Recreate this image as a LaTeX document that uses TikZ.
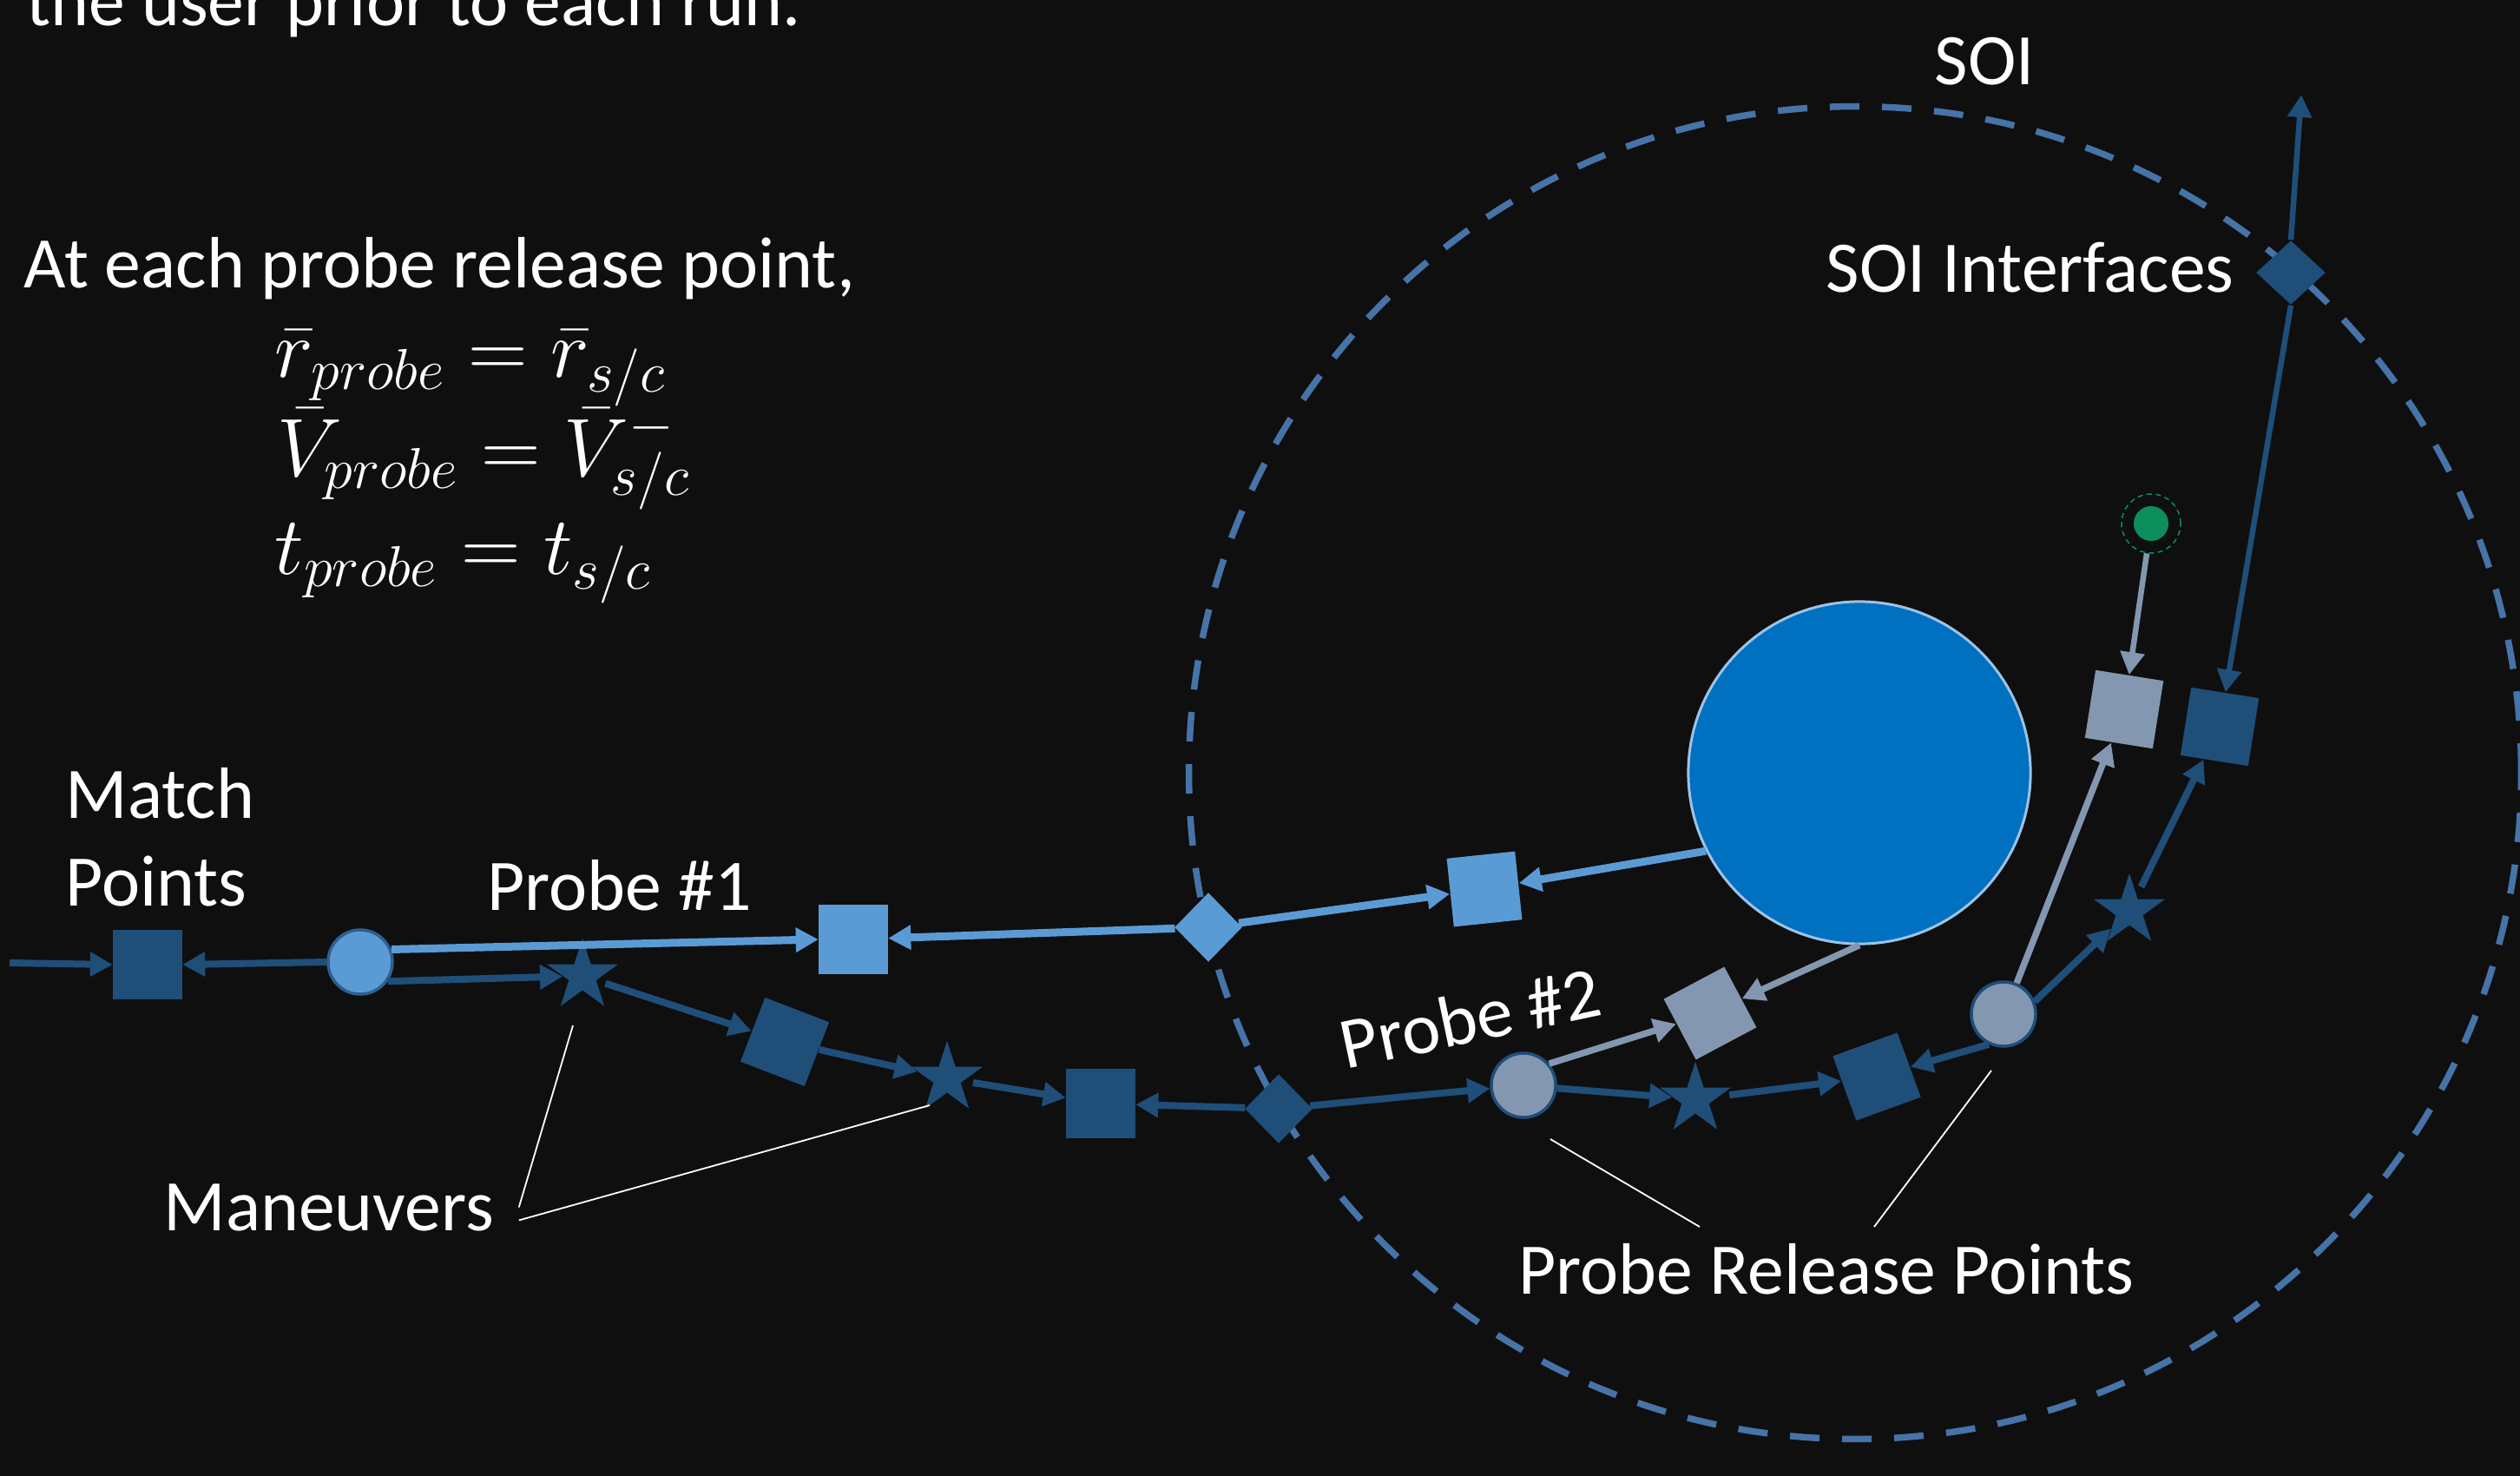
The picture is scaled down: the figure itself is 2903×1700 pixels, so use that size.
\RequirePackage{fix-cm}
\documentclass[tikz,border=0pt]{standalone}
\usepackage{fontspec}
\setmainfont{Carlito}
\usetikzlibrary{shapes.geometric,arrows.meta}
\definecolor{lb}{HTML}{5B9BD5}
\definecolor{dk}{HTML}{1F4E79}
\definecolor{gy}{HTML}{8497B0}
\definecolor{planetc}{HTML}{0070C0}
\definecolor{planetb}{HTML}{9DC3E6}
\definecolor{soic}{HTML}{4673A8}
\definecolor{grn}{HTML}{0C8F5C}
\definecolor{bgc}{HTML}{0F0F0F}
\definecolor{cob}{HTML}{2F5F8F}
\tikzset{
  txt/.style={text=white, font=\fontsize{23.8pt}{28.6pt}\selectfont, inner sep=0pt, anchor=base west},
  eqn/.style={text=white, font=\fontsize{27pt}{32pt}\selectfont, inner sep=0pt, anchor=base west},
  sq/.style={rectangle, minimum size=0.79cm, inner sep=0pt},
  dksq/.style={sq, fill=dk},
  lbsq/.style={sq, fill=lb},
  gysq/.style={sq, fill=gy},
  rel/.style={circle, minimum size=0.74cm, inner sep=0pt, line width=0.035cm},
  mstar/.style={star, star points=5, star point ratio=2.618, minimum size=0.86cm, inner sep=0pt, fill=dk},
  dia/.style={diamond, minimum width=0.78cm, minimum height=0.8cm, inner sep=0pt},
  conn/.style={line width=0.08cm, -{Triangle[length=0.26cm,width=0.27cm]}},
  dkc/.style={conn, draw=dk},
  lbc/.style={conn, draw=lb, line width=0.09cm},
  gyc/.style={conn, draw=gy, line width=0.075cm},
  leader/.style={draw=white, line width=0.018cm},
}
\begin{document}
\begin{tikzpicture}[x=0.01cm,y=-0.01cm]
\useasboundingbox (0,0) rectangle (2903,1700);
\clip (0,0) rectangle (2903,1700);
\fill[bgc] (0,0) rectangle (2903,1700);

% SOI
\draw[soic, line width=0.075cm, dash pattern=on 0.34cm off 0.26cm] (2137,890) circle[radius=7.67cm];

% texts
\node[txt] (hdr) at (30,30) {the user prior to each run.};
\node[txt] (intro) at (27,331) {At each probe release point,};
\node[eqn] (e1) at (316,434) {$\bar{r}_{probe}=\bar{r}_{s/c}$};
\node[eqn] (e2) at (319,548) {$\bar{V}_{probe}=\bar{V}^{-}_{s/c}$};
\node[eqn] (e3) at (316,661) {$t_{probe}=t_{s/c}$};
\node[txt] (mt1) at (75,942) {Match};
\node[txt] (mt2) at (75,1043) {Points};
\node[txt] (p1) at (561,1048) {Probe \#1};
\node[txt] (man) at (188,1417) {Maneuvers};
\node[txt, rotate=12] (p2) at (1550,1232) {Probe \#2};
\node[txt] (prp) at (1749,1490) {Probe Release Points};
\node[txt] (soi) at (2228,98) {SOI};
\node[txt] (soii) at (2103,337) {SOI Interfaces};

% nodes
\node[dksq] (m0) at (170,1111) {};
\node[rel, fill=lb, draw=cob] (c1) at (415,1108) {};
\node[lbsq] (s1L) at (983,1082) {};
\node[dia, fill=lb] (d1) at (1392,1068) {};
\node[lbsq, rotate=6] (s1R) at (1710,1024) {};
\node[circle, fill=planetc, draw=planetb, line width=0.03cm, minimum size=3.94cm, inner sep=0pt] (planet) at (2142,890) {};
\node[mstar] (st1) at (671,1124) {};
\node[dksq, rotate=-21] (q1) at (904,1200) {};
\node[mstar] (st2) at (1091,1242) {};
\node[dksq] (q2) at (1268,1271) {};
\node[dia, fill=dk] (d2) at (1473,1277) {};
\node[rel, fill=gy, draw=dk] (c2) at (1755,1250) {};
\node[gysq, rotate=28] (g1) at (1970,1167) {};
\node[mstar] (st3) at (1953,1266) {};
\node[dksq, rotate=20] (q3) at (2162,1240) {};
\node[rel, fill=gy, draw=dk] (c3) at (2308,1168) {};
\node[mstar] (st4) at (2453,1049) {};
\node[gysq, rotate=-9] (g2) at (2447,817) {};
\node[dksq, rotate=-9] (q4) at (2557,837) {};
\node[circle, draw=grn, line width=0.015cm, dash pattern=on 0.06cm off 0.045cm, minimum size=0.68cm, inner sep=0pt,
  path picture={\fill[grn] (path picture bounding box.center) circle[radius=0.2cm];}] (gr) at (2478,603) {};
\node[dia, fill=dk, minimum width=0.8cm, minimum height=0.74cm] (d3) at (2639,314) {};
\coordinate (topend) at (2651,109);
\coordinate (inend) at (11,1109);

% connectors
\draw[dkc] (inend) -- (m0.west);
\draw[dkc] (c1.west) -- (m0.east);
\draw[lbc] (c1.22) -- (s1L.west);
\draw[dkc] (c1.-35) -- (st1);
\draw[dkc, shorten <=3pt] (st1) -- (q1);
\draw[dkc] (q1) -- (st2);
\draw[dkc, shorten <=3pt] (st2) -- (q2);
\draw[dkc] (d2) -- (q2);
\draw[dkc] (d2) -- (c2);
\draw[lbc] (d1) -- (s1L);
\draw[lbc] (d1) -- (s1R);
\draw[lbc] (planet.207) -- (s1R);
\draw[gyc] (planet.south) -- (g1);
\draw[gyc] (c2.40) -- (g1);
\draw[dkc] (c2.-5) -- (st3);
\draw[dkc, shorten <=3pt] (st3) -- (q3);
\draw[dkc] (c3.244) -- (q3);
\draw[gyc] (c3.67) -- (g2);
\draw[dkc] (c3.22) -- (st4);
\draw[dkc, shorten <=3pt] (st4) -- (q4);
\draw[gyc, line width=0.065cm] (gr) -- (g2);
\draw[dkc, line width=0.065cm] (d3.south) -- (q4);
\draw[dkc, line width=0.065cm] (d3.north) -- (topend);

% leader lines
\coordinate (lm1) at (660,1181);
\coordinate (lm2) at (1071,1273);
\draw[leader] ([xshift=0.28cm]man.east) -- (lm1);
\draw[leader] ([xshift=0.28cm,yshift=-0.15cm]man.east) -- (lm2);
\coordinate (r1a) at (1786,1312);
\coordinate (r1b) at (1958,1413);
\coordinate (r2a) at (2294,1233);
\coordinate (r2b) at (2159,1413);
\draw[leader] (r1a) -- (r1b);
\draw[leader] (r2a) -- (r2b);
\end{tikzpicture}
\end{document}
